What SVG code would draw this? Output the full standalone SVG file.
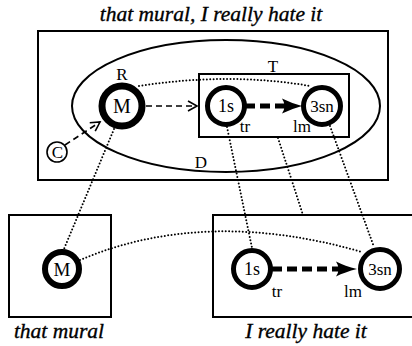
<svg xmlns="http://www.w3.org/2000/svg" width="412" height="346" viewBox="0 0 412 346">
<defs>
<style>
.t{font-family:"Liberation Serif","Times New Roman",serif;fill:#000}
.it{font-style:italic;font-size:21.5px;stroke:#000;stroke-width:0.35}
.box{fill:none;stroke:#000;stroke-width:2}
.nd{fill:#fff;stroke:#000}
.dot{fill:none;stroke:#000;stroke-width:2;stroke-dasharray:0 3.4;stroke-linecap:round}
.thin{fill:none;stroke:#000;stroke-width:1.6;stroke-dasharray:6 4}
.thick{fill:none;stroke:#000;stroke-width:5;stroke-dasharray:10 5}
</style>
<marker id="open" markerWidth="14" markerHeight="14" refX="10" refY="6" orient="auto" markerUnits="userSpaceOnUse" viewBox="0 0 14 12">
<path d="M1,1 L10,6 L1,11" fill="none" stroke="#000" stroke-width="1.6"/>
</marker>
</defs>
<rect width="412" height="346" fill="#fff"/>
<text class="t it" x="211" y="21" text-anchor="middle">that mural, I really hate it</text>
<g id="frame-top"><rect class="box" x="38" y="31" width="350" height="149"/></g>
<g id="D"><ellipse cx="226" cy="106" rx="154" ry="66" fill="none" stroke="#000" stroke-width="2"/>
<text class="t" x="201" y="168" font-size="17" text-anchor="middle">D</text></g>
<g id="T"><rect class="box" x="199" y="74" width="150" height="63"/>
<text class="t" x="273" y="72" font-size="17" text-anchor="middle">T</text></g>
<g id="frame-bl"><rect class="box" x="9" y="215" width="102" height="102"/>
<text class="t it" x="59" y="338" text-anchor="middle">that mural</text></g>
<g id="frame-br"><rect class="box" x="213" y="215" width="202" height="102"/>
<text class="t it" x="306" y="338" text-anchor="middle">I really hate it</text></g>
<g id="connectors">
<path class="dot" d="M139,86 Q230,72 310,86"/>
<path class="dot" d="M80,260 Q205,207 362,252"/>
<line class="dot" x1="114" y1="129" x2="64" y2="249"/>
<line class="dot" x1="227" y1="127" x2="252" y2="248"/>
<line class="dot" x1="278" y1="138" x2="303" y2="215"/>
<line class="dot" x1="330" y1="126" x2="374" y2="247"/>
<line class="thin" x1="146" y1="106" x2="197" y2="106" marker-end="url(#open)"/>
<line class="thin" x1="65" y1="145" x2="100" y2="122" marker-end="url(#open)"/>
<line class="thick" x1="245" y1="106" x2="286" y2="106"/>
<path d="M282,98.5 Q291,103 302,106 Q291,109 282,113.5 Q287,106 282,98.5 Z" fill="#000"/>
<line class="thick" x1="272" y1="269" x2="340" y2="269"/>
<path d="M336,261.5 Q345,266 357,269 Q345,272 336,276.5 Q341,269 336,261.5 Z" fill="#000"/>
</g>
<g id="M-top"><circle class="nd" cx="122" cy="106" r="20" stroke-width="7"/>
<text class="t" x="122" y="113" font-size="20" text-anchor="middle">M</text>
<text class="t" x="122" y="80" font-size="17" text-anchor="middle">R</text></g>
<g id="s1-top"><circle class="nd" cx="226" cy="106" r="18.5" stroke-width="5"/>
<text class="t" x="226" y="112" font-size="18" text-anchor="middle">1s</text>
<text class="t" x="245" y="132" font-size="17" text-anchor="middle">tr</text></g>
<g id="sn3-top"><circle class="nd" cx="322" cy="106" r="18.5" stroke-width="5"/>
<text class="t" x="322" y="112" font-size="17" text-anchor="middle">3sn</text>
<text class="t" x="302" y="132" font-size="17" text-anchor="middle">lm</text></g>
<g id="C"><circle cx="57" cy="152" r="10" fill="#fff" stroke="#000" stroke-width="1.6"/>
<text class="t" x="57.5" y="158" font-size="17" text-anchor="middle">C</text></g>
<g id="M-bot"><circle class="nd" cx="62" cy="269" r="17" stroke-width="6"/>
<text class="t" x="62" y="275.5" font-size="19" text-anchor="middle">M</text></g>
<g id="s1-bot"><circle class="nd" cx="252" cy="269" r="18.5" stroke-width="5"/>
<text class="t" x="252" y="275" font-size="18" text-anchor="middle">1s</text>
<text class="t" x="277" y="297" font-size="17" text-anchor="middle">tr</text></g>
<g id="sn3-bot"><circle class="nd" cx="380" cy="269" r="19.5" stroke-width="5"/>
<text class="t" x="380" y="275" font-size="17" text-anchor="middle">3sn</text>
<text class="t" x="353" y="297" font-size="17" text-anchor="middle">lm</text></g>
</svg>
